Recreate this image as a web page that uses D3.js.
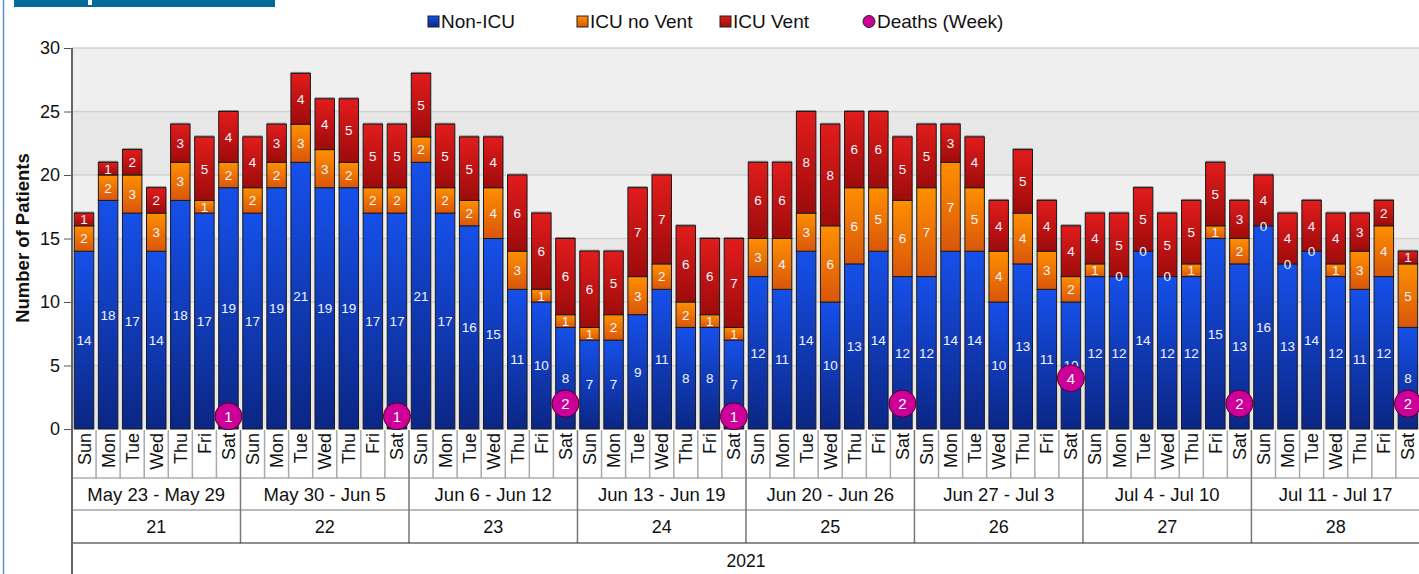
<!DOCTYPE html>
<html><head><meta charset="utf-8">
<script src="https://cdn.jsdelivr.net/npm/d3@7"></script>
<style>body{margin:0;background:#fff;overflow:hidden}svg{display:block;font-family:"Liberation Sans",Arial,sans-serif}</style>
</head><body><svg id="c" width="1419" height="574"></svg>
<script>
const days = ["Sun","Mon","Tue","Wed","Thu","Fri","Sat"];
const weekRanges = ["May 23 - May 29","May 30 - Jun 5","Jun 6 - Jun 12","Jun 13 - Jun 19","Jun 20 - Jun 26","Jun 27 - Jul 3","Jul 4 - Jul 10","Jul 11 - Jul 17"];
const weekNumbers = ["21","22","23","24","25","26","27","28"];
const year = "2021";
const nonICU = [14,18,17,14,18,17,19, 17,19,21,19,19,17,17, 21,17,16,15,11,10,8, 7,7,9,11,8,8,7, 12,11,14,10,13,14,12, 12,14,14,10,13,11,10, 12,12,14,12,12,15,13, 16,13,14,12,11,12,8];
const icuNoVent = [2,2,3,3,3,1,2, 2,2,3,3,2,2,2, 2,2,2,4,3,1,1, 1,2,3,2,2,1,1, 3,4,3,6,6,5,6, 7,7,5,4,4,3,2, 1,0,0,0,1,1,2, 0,0,0,1,3,4,5];
const icuVent = [1,1,2,2,3,5,4, 4,3,4,4,5,5,5, 5,5,5,4,6,6,6, 6,5,7,7,6,6,7, 6,6,8,8,6,6,5, 5,3,4,4,5,4,4, 4,5,5,5,5,5,3, 4,4,4,4,3,2,1];
const deathsWeek = [1,1,2,1,2,4,2,2];
const yTicks = [0,5,10,15,20,25,30];
const seriesNames = ["Non-ICU","ICU no Vent","ICU Vent"];
const deathsName = "Deaths (Week)";

(function(){
const svg = d3.select("#c");
const W = 1419, H = 574;
const pL = 72, pR = 72 + 56*24.07, pT = 48, pB = 429;
const idx = d3.range(nonICU.length);
const x = d3.scaleBand().domain(idx).range([pL, pR]).paddingInner(0.19).paddingOuter(0.095);
const xs = d3.scaleBand().domain(idx).range([pL, pR]).padding(0);
const y = d3.scaleLinear().domain([0,30]).range([pB, pT]);

const defs = svg.append("defs");
function grad(id, c1, c2){
  const g = defs.append("linearGradient").attr("id",id).attr("x1",0).attr("y1",0).attr("x2",0).attr("y2",1);
  g.append("stop").attr("offset","0%").attr("stop-color",c1);
  g.append("stop").attr("offset","100%").attr("stop-color",c2);
}
grad("gBlue","#1650ea","#0b2684");
grad("gOrange","#ff8f00","#d9560a");
grad("gRed","#e21c1c","#9e0b0b");
const fills = ["url(#gBlue)","url(#gOrange)","url(#gRed)"];

svg.append("line").attr("x1",3.5).attr("x2",3.5).attr("y1",0).attr("y2",H).attr("stroke","#5b8fcc").attr("stroke-width",1.5);
svg.append("rect").attr("x",14).attr("y",0).attr("width",261).attr("height",7).attr("fill","#036a99");
svg.append("rect").attr("x",88).attr("y",0).attr("width",4).attr("height",5).attr("fill","#fff");

for (let i=0;i<yTicks.length-1;i++){
  const a=yTicks[i], b=yTicks[i+1];
  svg.append("rect").attr("x",pL).attr("y",y(b)).attr("width",pR-pL).attr("height",y(a)-y(b))
    .attr("fill", i%2===0 ? "#e7e7e7" : "#efefef");
}
svg.append("g").selectAll("line").data(yTicks.slice(1)).join("line")
  .attr("x1",pL).attr("x2",pR).attr("y1",d=>y(d)).attr("y2",d=>y(d))
  .attr("stroke","#d2d2d2").attr("stroke-width",1.5);

const yAxis = d3.axisLeft(y).tickValues(yTicks).tickSize(8).tickPadding(4);
const ya = svg.append("g").attr("transform",`translate(${pL},0)`).call(yAxis);
ya.select(".domain").remove();
ya.selectAll(".tick line").attr("stroke","#555");
ya.selectAll(".tick text").attr("font-size",18).attr("fill","#111").attr("font-family","Liberation Sans, Arial, sans-serif");
svg.append("line").attr("x1",pL).attr("x2",pL).attr("y1",pT).attr("y2",H).attr("stroke","#666").attr("stroke-width",2);

svg.append("text").attr("transform",`translate(22,238) rotate(-90)`).attr("text-anchor","middle").attr("dy","0.36em")
  .attr("font-size",18.5).attr("font-weight","bold").attr("fill","#111").text("Number of Patients");

const stacked = idx.map(i=>{
  const vals=[nonICU[i],icuNoVent[i],icuVent[i]];
  let acc=0; return vals.map((v,k)=>{const s={i,k,v,y0:acc,y1:acc+v}; acc+=v; return s;});
});
const gBars = svg.append("g");
stacked.forEach(st=>{
  const tot = st[2].y1;
  gBars.append("rect").attr("x",x(st[0].i)).attr("y",y(tot)-1.5).attr("width",x.bandwidth()).attr("height",2).attr("fill","#888");
  st.forEach(s=>{
    gBars.append("rect").attr("x",x(s.i)).attr("y",y(s.y1)).attr("width",x.bandwidth()).attr("height",y(s.y0)-y(s.y1))
      .attr("fill",fills[s.k]).attr("stroke","#1a1a1a").attr("stroke-width",1);
  });
});
stacked.forEach(st=>{
  st.forEach(s=>{
    if (s.k===2 && s.v===0) return;
    gBars.append("text").attr("x",x(s.i)+x.bandwidth()/2).attr("y",y((s.y0+s.y1)/2)).attr("dy","0.36em")
      .attr("text-anchor","middle").attr("font-size",13.5).attr("fill","#f4f4ff").text(s.v);
  });
});

const gD = svg.append("g");
deathsWeek.forEach((d,w)=>{
  const i = w*7+6;
  const cx = x(i)+x.bandwidth()/2, cy=y(d);
  gD.append("circle").attr("cx",cx).attr("cy",cy).attr("r",13.5).attr("fill","#cc0099").attr("stroke","#4a0030").attr("stroke-width",1);
  gD.append("text").attr("x",cx).attr("y",cy).attr("dy","0.36em").attr("text-anchor","middle").attr("font-size",15).attr("fill","#fff").text(d);
});

const r0=430, r1=478, r2=510, r3=543;
const gx = svg.append("g");
gx.append("rect").attr("x",pL).attr("y",r0).attr("width",pR-pL).attr("height",H-r0).attr("fill","#fff");
idx.forEach(i=>{
  const cx = xs(i)+xs.bandwidth()/2;
  gx.append("text").attr("transform",`translate(${cx},${r0+3}) rotate(-90)`).attr("text-anchor","end").attr("dy","0.36em")
    .attr("font-size",18).attr("fill","#111").text(days[i%7]);
  if (i>0 && i%7!==0) gx.append("line").attr("x1",xs(i)).attr("x2",xs(i)).attr("y1",r0).attr("y2",r1).attr("stroke","#aaa").attr("stroke-width",1.5);
});
weekRanges.forEach((t,w)=>{
  const x0 = xs(w*7), x1 = w*7+7 < idx.length ? xs(w*7+7) : pR;
  const cx=(x0+x1)/2;
  gx.append("text").attr("x",cx).attr("y",(r1+r2)/2).attr("dy","0.36em").attr("text-anchor","middle").attr("font-size",18.5).attr("fill","#111").text(t);
  gx.append("text").attr("x",cx).attr("y",(r2+r3)/2).attr("dy","0.36em").attr("text-anchor","middle").attr("font-size",18).attr("fill","#111").text(weekNumbers[w]);
  if (w>0) gx.append("line").attr("x1",x0).attr("x2",x0).attr("y1",r0).attr("y2",r3).attr("stroke","#777").attr("stroke-width",1.5);
});
[[r1,"#888"],[r2,"#777"],[r3,"#222"]].forEach(([yy,c])=>gx.append("line").attr("x1",pL).attr("x2",pR).attr("y1",yy).attr("y2",yy).attr("stroke",c).attr("stroke-width",1.2));
gx.append("text").attr("x",(pL+pR)/2).attr("y",561).attr("dy","0.36em").attr("text-anchor","middle").attr("font-size",17.5).attr("fill","#111").text(year);
svg.append("line").attr("x1",pL).attr("x2",pL).attr("y1",r0-2).attr("y2",H).attr("stroke","#666").attr("stroke-width",2);

const lg = svg.append("g");
const lx = [428,577,720];
seriesNames.forEach((n,k)=>{
  lg.append("rect").attr("x",lx[k]).attr("y",16).attr("width",11).attr("height",11).attr("fill",fills[k]).attr("stroke","#222").attr("stroke-width",1);
  lg.append("text").attr("x",lx[k]+13).attr("y",21.5).attr("dy","0.36em").attr("font-size",19).attr("fill","#111").text(n);
});
lg.append("circle").attr("cx",869).attr("cy",21.5).attr("r",6).attr("fill","#cc0099").attr("stroke","#222").attr("stroke-width",1);
lg.append("text").attr("x",877).attr("y",21.5).attr("dy","0.36em").attr("font-size",19).attr("fill","#111").text(deathsName);
})();
</script></body></html>
